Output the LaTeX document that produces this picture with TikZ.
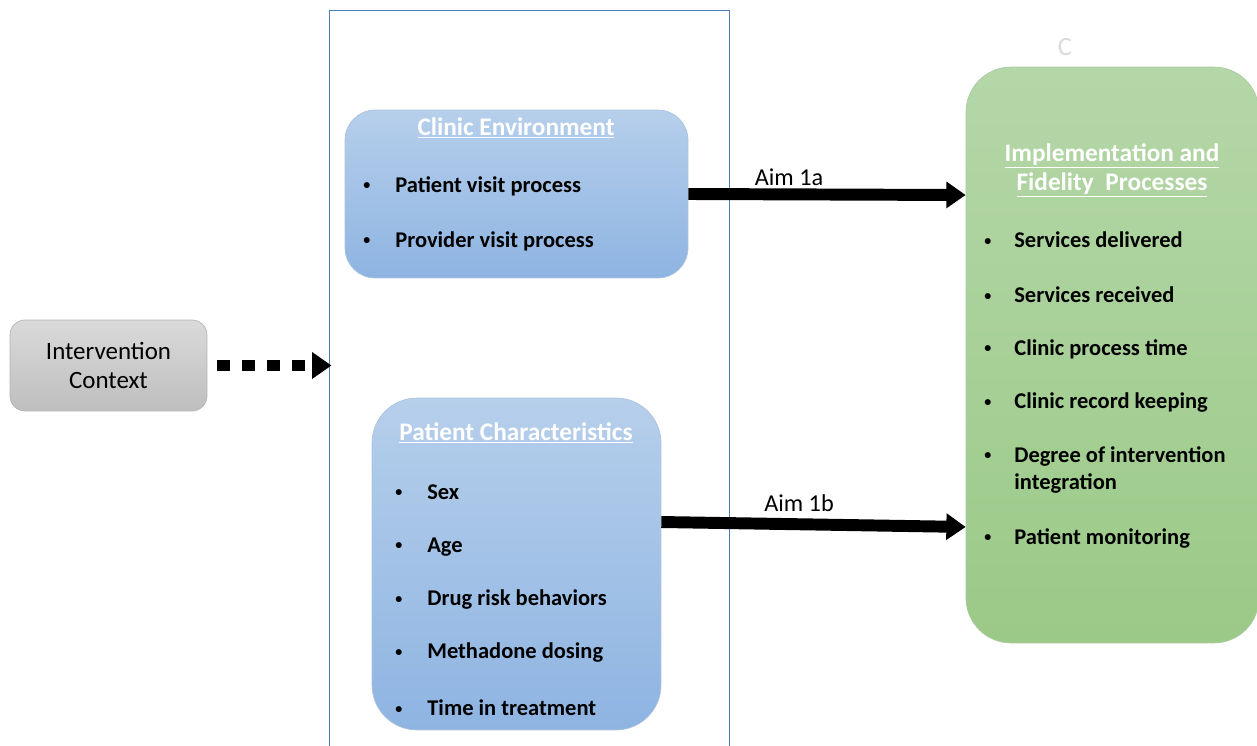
\documentclass[tikz,border=0pt]{standalone}
\usepackage{fontspec}
\setmainfont{Carlito}
\usetikzlibrary{arrows.meta, positioning}

\definecolor{blueTop}{HTML}{B6CFEB}
\definecolor{blueBot}{HTML}{8EB4E2}
\definecolor{greenTop}{HTML}{B4D7A8}
\definecolor{greenBot}{HTML}{9BC987}
\definecolor{greyTop}{HTML}{DADADA}
\definecolor{greyBot}{HTML}{BEBEBE}
\definecolor{frameBlue}{HTML}{4A7EBB}

\newcommand{\dotitem}[1]{\makebox[#1][l]{\raisebox{0.12em}{\fontsize{8}{8}\selectfont\textbullet}}}

\begin{document}
\begin{tikzpicture}[x=0.02cm, y=-0.02cm,
    bluebox/.style={rounded corners=0.6cm, top color=blueTop, bottom color=blueBot,
        draw=blueTop!85!gray, line width=0.4pt},
    greenbox/.style={rounded corners=0.9cm, top color=greenTop, bottom color=greenBot,
        draw=greenTop!85!gray, line width=0.4pt},
    greybox/.style={rounded corners=0.3cm, top color=greyTop, bottom color=greyBot,
        draw=greyBot!85!gray, line width=0.4pt},
    heading/.style={font=\fontsize{14.4}{17}\selectfont\bfseries, text=white, align=center, inner sep=0pt},
    item/.style={font=\fontsize{12.8}{15.5}\selectfont\bfseries, anchor=west, inner sep=0pt, align=left},
    aim/.style={line width=6.8pt, -{Triangle[length=11pt, width=14.5pt]}},
    aimlabel/.style={font=\fontsize{13.8}{16}\selectfont, inner sep=0pt}]
    % Page
    \clip (0,0) rectangle (1257,746);
    \fill[white] (0,0) rectangle (1257,746);
    % Outer frame (bottom edge falls off the page)
    \node[draw=frameBlue, line width=0.6pt, minimum width=8.02cm, minimum height=15cm,
        inner sep=0pt] (frame) at (529.5,385) {};
    % Faint mark
    \node[font=\fontsize{15}{17}\selectfont, text=black!14] (mark) at (1065,47) {C};
    % Intervention Context
    \node[greybox, minimum width=3.94cm, minimum height=1.82cm,
        font=\fontsize{14.2}{17}\selectfont, align=center] (context) at (108.5,365.5)
        {Intervention\\Context};
    % Clinic Environment
    \node[bluebox, minimum width=6.86cm, minimum height=3.36cm] (clinic) at (516.5,194) {};
    \node[heading] (clinicT) at (516,128) {\underline{Clinic Environment}};
    \node[item] (ce1) at (363,186) {\dotitem{0.64cm}Patient visit process};
    \node[item] (ce2) at (363,241) {\dotitem{0.64cm}Provider visit process};
    % Patient Characteristics
    \node[bluebox, rounded corners=0.9cm, minimum width=5.78cm, minimum height=6.64cm] (patient) at (516.5,564) {};
    \node[heading] (patientT) at (516,433) {\underline{Patient Characteristics}};
    \node[item] (pc1) at (395,492) {\dotitem{0.64cm}Sex};
    \node[item] (pc2) at (395,547) {\dotitem{0.64cm}Age};
    \node[item] (pc3) at (395,600) {\dotitem{0.64cm}Drug risk behaviors};
    \node[item] (pc4) at (395,653) {\dotitem{0.64cm}Methadone dosing};
    \node[item] (pc5) at (395,708) {\dotitem{0.64cm}Time in treatment};
    % Implementation and Fidelity Processes
    \node[greenbox, minimum width=5.86cm, minimum height=11.52cm] (fidelity) at (1112.5,355) {};
    \node[heading] (fidT1) at (1112,156) {\underline{Implementation and}};
    \node[heading] (fidT2) at (1112,185) {\underline{Fidelity\ \ Processes}};
    \node[item] (fp1) at (984,240) {\dotitem{0.6cm}Services delivered};
    \node[item] (fp2) at (984,295) {\dotitem{0.6cm}Services received};
    \node[item] (fp3) at (984,349) {\dotitem{0.6cm}Clinic process time};
    \node[item] (fp4) at (984,403) {\dotitem{0.6cm}Clinic record keeping};
    \node[item, anchor=north west] (fp5) at (984,446) {\dotitem{0.6cm}Degree of intervention\\
        \hspace*{0.6cm}integration};
    \node[item] (fp6) at (984,538) {\dotitem{0.6cm}Patient monitoring};
    % Arrows
    \draw[line width=6.8pt, dash pattern=on 7.4pt off 6.8pt,
        -{Triangle[length=11pt, width=14.5pt]}]
        ([xshift=0.2cm]context.east) -- ([xshift=0.06cm]frame.west |- context.east);
    \draw[aim] (clinic.east) -- ([yshift=3.2cm]fidelity.west);
    \node[aimlabel] (aimA) at (789,177) {Aim 1a};
    \draw[aim] ([yshift=0.84cm]patient.east) -- ([yshift=-3.44cm]fidelity.west);
    \node[aimlabel] (aimB) at (799,503) {Aim 1b};
\end{tikzpicture}
\end{document}
